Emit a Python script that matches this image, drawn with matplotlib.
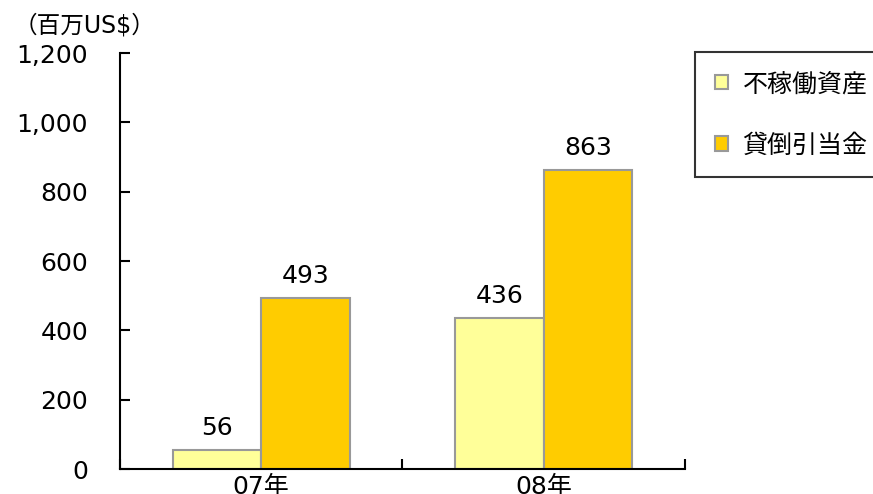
import matplotlib
matplotlib.use('Agg')
import matplotlib.pyplot as plt
import numpy as np

plt.rcParams['font.family'] = ['DejaVu Sans', 'Noto Sans CJK JP']

# Data
categories = ['07年', '08年']
series_names = ['不稼働資産', '貸倒引当金']
npa = [56, 436]
allowance = [493, 863]
y_ticks = [0, 200, 400, 600, 800, 1000, 1200]

colors = ['#FFFF99', '#FFCC00']
edge = '#999999'

fig = plt.figure(figsize=(8.73, 4.94), dpi=100)
ax = fig.add_axes([0.1375, 0.0506, 0.647, 0.8421])

x = np.arange(len(categories))
w = 0.313
b1 = ax.bar(x - w / 2, npa, w, color=colors[0], edgecolor=edge, linewidth=1.5,
            label=series_names[0])
b2 = ax.bar(x + w / 2, allowance, w, color=colors[1], edgecolor=edge, linewidth=1.5,
            label=series_names[1])

# value labels above each bar
for bars, vals in ((b1, npa), (b2, allowance)):
    for r, v in zip(bars, vals):
        ax.annotate(f'{v:,}', (r.get_x() + r.get_width() / 2, v),
                    xytext=(0, 7), textcoords='offset points',
                    ha='center', va='bottom', fontsize=18)

ax.set_xlim(-0.5, 1.5)
ax.set_ylim(0, 1200)
ax.set_yticks(y_ticks)
ax.set_yticklabels([f'{t:,}' for t in y_ticks])
ax.tick_params(axis='y', direction='in', length=7, width=1.5, pad=23, labelsize=18)

ax.set_xticks(x)
ax.set_xticklabels(categories)
ax.tick_params(axis='x', which='major', length=0, pad=4, labelsize=18)
ax.set_xticks([-0.5, 0.5, 1.5], minor=True)
ax.tick_params(axis='x', which='minor', direction='in', length=7, width=1.5)

for s in ('top', 'right'):
    ax.spines[s].set_visible(False)
for s in ('left', 'bottom'):
    ax.spines[s].set_linewidth(1.5)

fig.text(14 / 873, 1 - 25 / 494, '（百万US$）', fontsize=17, va='center', ha='left')

leg = fig.legend(handles=[b1, b2], loc='upper left',
                 bbox_to_anchor=(695 / 873, 1 - 52 / 494),
                 fontsize=18, frameon=True, fancybox=False,
                 handlelength=0.5, handleheight=0.5, handletextpad=0.6,
                 labelspacing=1.5, borderpad=0.8, borderaxespad=0)
leg.get_frame().set_edgecolor('black')
leg.get_frame().set_linewidth(1.5)

fig.savefig('out.png', dpi=100)
